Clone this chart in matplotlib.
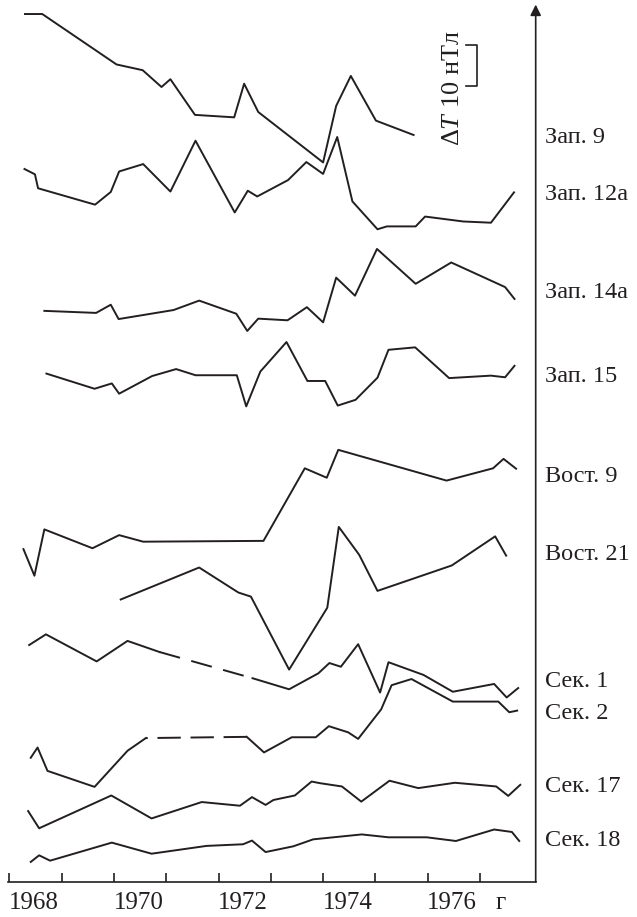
import matplotlib.pyplot as plt

plt.rcParams['font.family'] = ['Liberation Serif', 'DejaVu Serif']
plt.rcParams['mathtext.fontset'] = 'custom'
plt.rcParams['mathtext.rm'] = 'Liberation Serif'
plt.rcParams['mathtext.it'] = 'Liberation Serif:italic'

# ΔT anomalies (nT) for each station, relative to its own baseline
zap9_t = [1968.30, 1968.63, 1970.05, 1970.55, 1970.91, 1971.08, 1971.55, 1972.30,
          1972.49, 1972.76, 1974.00, 1974.25, 1974.53, 1975.01, 1975.73]
zap9_v = [30.2, 30.2, 17.9, 16.5, 12.4, 14.3, 5.6, 5.0, 13.2, 6.3, -6.0, 7.8, 15.1, 4.2, 0.7]

zap12_t = [1968.29, 1968.49, 1968.55, 1969.64, 1969.94, 1970.10, 1970.56, 1971.08,
           1971.56, 1972.31, 1972.56, 1972.74, 1973.33, 1973.68, 1974.00, 1974.27,
           1974.56, 1975.04, 1975.22, 1975.77, 1975.95, 1976.68, 1977.21, 1977.65]
zap12_v = [6.3, 5.0, 1.6, -2.4, 0.7, 5.7, 7.5, 0.8, 13.2, -4.3, 1.0, -0.4, 3.6, 8.0,
           5.1, 14.1, -1.6, -8.4, -7.7, -7.7, -5.3, -6.5, -6.8, 0.6]

zap14_t = [1968.67, 1969.66, 1969.94, 1970.09, 1971.14, 1971.63, 1972.34, 1972.55,
           1972.76, 1973.32, 1973.69, 1974.00, 1974.25, 1974.61, 1975.03, 1975.77,
           1976.45, 1977.48, 1977.66]
zap14_v = [-4.4, -4.9, -2.9, -6.4, -4.2, -1.9, -5.1, -9.3, -6.3, -6.7, -3.5, -7.2,
           3.7, -0.7, 10.7, 2.2, 7.4, 1.4, -1.5]

zap15_t = [1968.71, 1969.63, 1969.96, 1970.10, 1970.73, 1971.19, 1971.56, 1972.35,
           1972.53, 1972.80, 1973.30, 1973.70, 1974.04, 1974.28, 1974.62, 1975.04,
           1975.25, 1975.76, 1976.41, 1977.21, 1977.48, 1977.66]
zap15_v = [0.8, -2.9, -1.6, -4.1, 0.2, 1.9, 0.4, 0.4, -7.2, 1.3, 8.5, -1.0, -1.0,
           -7.0, -5.6, -0.2, 6.6, 7.2, -0.3, 0.3, -0.1, 2.7]

vost9_t = [1968.27, 1968.48, 1968.67, 1969.59, 1970.10, 1970.56, 1972.86, 1973.65,
           1974.07, 1974.29, 1976.36, 1977.25, 1977.45, 1977.69]
vost9_v = [-17.6, -24.1, -12.8, -17.4, -14.2, -15.8, -15.6, 2.1, -0.2, 6.6, -0.9,
           2.1, 4.4, 2.0]

vost21_t = [1970.13, 1971.63, 1972.38, 1972.62, 1973.35, 1974.08, 1974.30, 1974.69,
            1975.04, 1976.46, 1977.29, 1977.50]
vost21_v = [-10.9, -3.1, -9.2, -10.2, -28.0, -12.9, 6.8, 0.0, -8.8, -2.6, 4.5, -0.2]

sek1_t = [1968.38, 1968.70, 1969.67, 1970.26, 1970.87, 1972.65, 1973.35, 1973.91,
          1974.12, 1974.34, 1974.67, 1975.09, 1975.25, 1975.92, 1976.48, 1977.27,
          1977.51, 1977.73]
sek1_v = [9.0, 11.6, 5.0, 10.0, 7.3, 0.9, -1.8, 2.1, 4.6, 3.7, 9.2, -2.6, 4.8, 1.7,
          -2.4, -0.5, -3.8, -1.5]

sek2_t = [1968.41, 1968.54, 1968.73, 1969.63, 1970.26, 1970.61, 1972.54, 1972.87,
          1973.40, 1973.86, 1974.11, 1974.48, 1974.67, 1975.11, 1975.31, 1975.69,
          1976.48, 1977.35, 1977.56, 1977.71]
sek2_v = [-10.9, -8.4, -14.1, -18.0, -9.2, -6.1, -5.8, -9.6, -5.9, -5.9, -3.2, -4.7,
          -6.3, 0.9, 6.8, 8.3, 2.8, 2.8, 0.2, 0.6]

sek17_t = [1968.36, 1968.57, 1969.95, 1970.72, 1971.68, 1972.41, 1972.64, 1972.90,
           1973.05, 1973.46, 1973.78, 1973.94, 1974.36, 1974.73, 1975.27, 1975.82,
           1976.52, 1977.31, 1977.54, 1977.77]
sek17_v = [-5.9, -10.1, -2.1, -7.7, -3.7, -4.6, -2.5, -4.4, -3.2, -2.1, 1.3, 0.9,
           0.1, -3.6, 1.5, -0.3, 1.0, 0.1, -2.2, 0.5]

sek18_t = [1968.41, 1968.57, 1968.78, 1969.96, 1970.72, 1971.77, 1972.47, 1972.64,
           1972.90, 1973.43, 1973.81, 1974.74, 1975.25, 1975.98, 1976.54, 1977.27,
           1977.61, 1977.75]
sek18_v = [-5.3, -3.7, -5.0, -0.6, -3.3, -1.4, -1.0, -0.1, -2.9, -1.5, 0.2, 1.4, 0.7,
           0.7, -0.2, 2.6, 2.0, -0.2]

names = ['Зап. 9', 'Зап. 12а', 'Зап. 14а', 'Зап. 15', 'Вост. 9', 'Вост. 21',
         'Сек. 1', 'Сек. 2', 'Сек. 17', 'Сек. 18']
series = [(zap9_t, zap9_v), (zap12_t, zap12_v), (zap14_t, zap14_v), (zap15_t, zap15_v),
          (vost9_t, vost9_v), (vost21_t, vost21_v), (sek1_t, sek1_v), (sek2_t, sek2_v),
          (sek17_t, sek17_v), (sek18_t, sek18_v)]
# vertical shift of each curve, nT
offsets = [181.5, 167.6, 143.7, 123.2, 98.8, 79.8, 48.8, 41.2, 23.2, 10.2]
# segment (start index) drawn dashed where data are missing
gaps = {'Сек. 1': 4, 'Сек. 2': 5}
gap_styles = {'Сек. 1': (0, (11, 6)), 'Сек. 2': (11, (12, 5))}

year_labels = ['1968', '1970', '1972', '1974', '1976', 'г']
year_label_pos = [1968.47, 1970.47, 1972.47, 1974.47, 1976.47, 1977.39]

ink = '#231f20'
fig = plt.figure(figsize=(6.37, 9.17), dpi=100)
ax = fig.add_axes([0, 0, 1, 1])
ax.set_xlim(1967.822, 1980.002)
ax.set_ylim(-8.54, 215.12)

lw = 1.4
for name, (t, v), off in zip(names, series, offsets):
    y = [val + off for val in v]
    g = gaps.get(name)
    if g is None:
        ax.plot(t, y, color=ink, lw=lw)
    else:
        ax.plot(t[:g + 1], y[:g + 1], color=ink, lw=lw)
        dashed, = ax.plot(t[g:g + 2], y[g:g + 2], color=ink, lw=lw)
        dashed.set_linestyle(gap_styles[name])
        dashed.set_dash_capstyle('butt')
        ax.plot(t[g + 1:], y[g + 1:], color=ink, lw=lw)
    ax.text(1978.24, off, name, fontsize=17.5, ha='left', va='center', color=ink)

# time axis along the bottom
for s in ['top', 'left', 'right']:
    ax.spines[s].set_visible(False)
ax.spines['bottom'].set_position(('data', 0))
ax.spines['bottom'].set_bounds(1967.975, 1978.065)
ax.spines['bottom'].set_linewidth(1.2)
ax.spines['bottom'].set_color(ink)
ax.set_xticks(range(1968, 1978))
ax.set_xticks(year_label_pos, minor=True)
ax.set_xticklabels(year_labels, minor=True)
ax.tick_params(axis='x', which='major', direction='in', length=6.5, width=1.2,
               color=ink, labelbottom=False)
ax.tick_params(axis='x', which='minor', length=0, pad=7, labelsize=18,
               labelcolor=ink)
ax.set_yticks([])

# vertical ΔT axis with arrow
ax.annotate('', xy=(1978.065, 214.0), xytext=(1978.065, 0),
            arrowprops=dict(arrowstyle='-|>', color=ink, lw=1.2,
                            mutation_scale=16, shrinkA=0, shrinkB=0))

# 10 nT scale bar
ax.plot([1976.73, 1976.94, 1976.94, 1976.73], [204.1, 204.1, 194.1, 194.1],
        color=ink, lw=1.2)
ax.text(1976.49, 193.6, r'$\Delta T$ 10 нТл', rotation=90, fontsize=19,
        ha='center', va='center', color=ink)

fig.savefig('out.png', dpi=100)
